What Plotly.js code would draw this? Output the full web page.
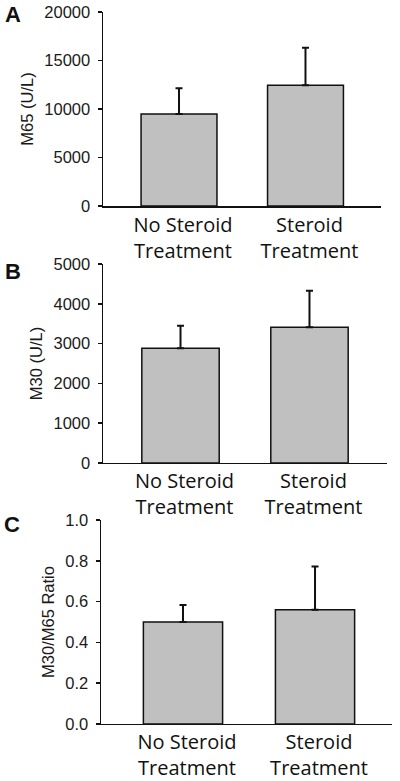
<!DOCTYPE html>
<html>
<head>
<meta charset="utf-8">
<script src="https://cdn.plot.ly/plotly-3.0.1.min.js"></script>
<style>html,body{margin:0;padding:0;background:#fff;}#chart{width:400px;height:781px;}</style>
</head>
<body>
<div id="chart"></div>
<script>
// ---- Data ----
const categories = ["No Steroid<br>Treatment", "Steroid<br>Treatment"];
const m65Values = [9500, 12450];
const m65Errors = [2630, 3880];
const m30Values = [2880, 3410];
const m30Errors = [570, 920];
const ratioValues = [0.50, 0.56];
const ratioErrors = [0.083, 0.212];
const panelLabels = ["A", "B", "C"];
const yTitles = ["M65 (U/L)", "M30 (U/L)", "M30/M65 Ratio"];

// ---- Styles ----
const barFill = "#c0c0c0";
const tickFont = {family: "Liberation Sans, Arial, sans-serif", size: 16.5, color: "#1a1a1a"};
const titleFont = {family: "Liberation Sans, Arial, sans-serif", size: 16.5, color: "#1a1a1a"};
const catFont = {family: "Open Sans, sans-serif", size: 20, color: "#111"};

function barTrace(vals, errs, xa, ya) {
  return {
    type: "bar", x: categories, y: vals, xaxis: xa, yaxis: ya, width: 0.6,
    marker: {color: barFill, line: {color: "#111", width: 1.5}},
    error_y: {type: "data", array: errs, arrayminus: errs.map(() => 0), symmetric: false,
              color: "#111", thickness: 2, width: 3.5},
    showlegend: false, hoverinfo: "skip"
  };
}

const data = [
  barTrace(m65Values, m65Errors, "x", "y"),
  barTrace(m30Values, m30Errors, "x2", "y2"),
  barTrace(ratioValues, ratioErrors, "x3", "y3")
];

function xAxis(domain, range, anchor) {
  return {domain: domain, range: range, anchor: anchor, type: "category",
    showline: true, linecolor: "#111", linewidth: 1.5, ticks: "", showgrid: false,
    zeroline: false, tickfont: catFont, ticklabelshift: 4, ticklabelstandoff: 0, fixedrange: true};
}
function yAxis(domain, range, dtick, anchor, title, fmt) {
  return {domain: domain, range: range, dtick: dtick, tick0: 0, anchor: anchor,
    showline: true, linecolor: "#111", linewidth: 1.5, ticks: "outside", ticklen: 4,
    tickwidth: 1.5, tickcolor: "#111", showgrid: false, zeroline: false,
    tickfont: tickFont, tickformat: fmt, ticklabelstandoff: 4,
    title: {text: title, font: titleFont, standoff: 6}, fixedrange: true};
}

const layout = {
  width: 400, height: 781,
  margin: {l: 0, r: 0, t: 0, b: 0},
  paper_bgcolor: "#fff", plot_bgcolor: "#fff",
  bargap: 0.4,
  xaxis: xAxis([0.2575, 0.9525], [-0.601, 1.597], "y"),
  yaxis: yAxis([0.7362, 0.9846], [0, 20000], 5000, "x", yTitles[0], "d"),
  xaxis2: xAxis([0.2575, 0.9675], [-0.601, 1.601], "y2"),
  yaxis2: yAxis([0.4072, 0.6620], [0, 5000], 1000, "x2", yTitles[1], "d"),
  xaxis3: xAxis([0.2525, 0.98], [-0.621, 1.583], "y3"),
  yaxis3: yAxis([0.0730, 0.3342], [0, 1.0], 0.2, "x3", yTitles[2], ".1f"),
  annotations: [
    {text: "<b>" + panelLabels[0] + "</b>", x: 12.5/400, y: 1 - 15/781},
    {text: "<b>" + panelLabels[1] + "</b>", x: 12.5/400, y: 1 - 271.5/781},
    {text: "<b>" + panelLabels[2] + "</b>", x: 11.5/400, y: 1 - 524/781}
  ].map(a => Object.assign(a, {xref: "paper", yref: "paper", showarrow: false,
    xanchor: "center", yanchor: "middle",
    font: {family: "Liberation Sans, Arial, sans-serif", size: 22, color: "#111"}}))
};

Plotly.newPlot("chart", data, layout, {displayModeBar: false, staticPlot: true});
</script>
</body>
</html>
